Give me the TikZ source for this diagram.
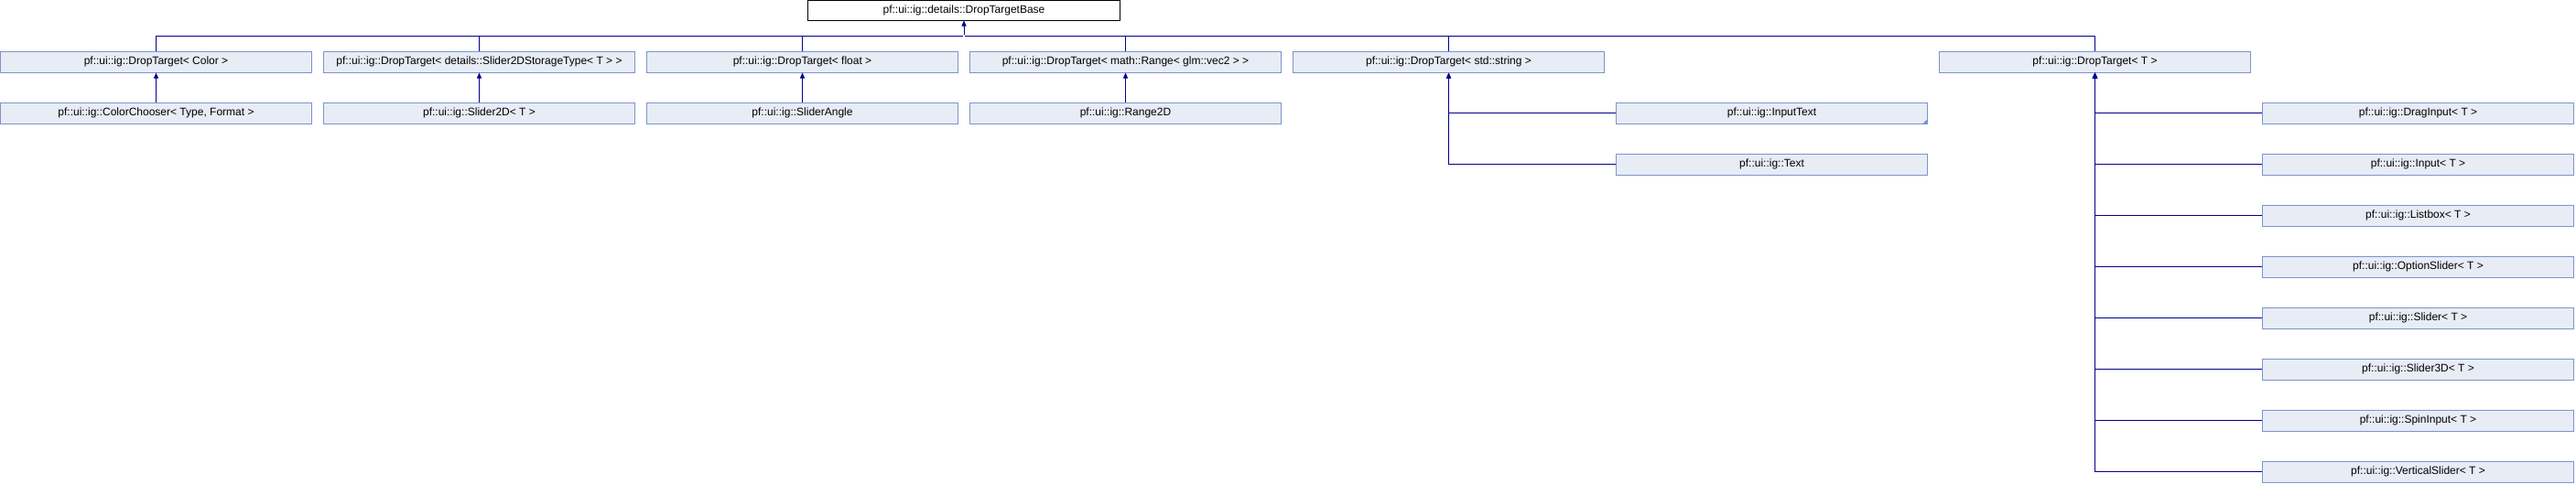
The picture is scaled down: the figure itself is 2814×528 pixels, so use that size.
\documentclass[tikz,border=0pt]{standalone}
\usepackage{fontspec}
\setmainfont{Liberation Sans}
\usetikzlibrary{arrows.meta}
\definecolor{classblue}{RGB}{0,0,140}
\definecolor{boxfill}{RGB}{232,236,245}
\definecolor{boxdraw}{RGB}{124,148,204}
\tikzstyle{cls} = [rectangle, minimum width=340pt, minimum height=23pt, inner sep=0pt, text centered, line width=1pt, draw=boxdraw, fill=boxfill]
\tikzstyle{rootclass} = [rectangle, minimum width=341pt, minimum height=22pt, inner sep=0pt, text centered, line width=1pt, draw=black, fill=white]
\tikzstyle{arrow} = [line width=1pt, classblue, -{Triangle[width=5pt,length=6pt]}]
\tikzstyle{line} = [line width=1pt, classblue, -]

\begin{document}
\begin{tikzpicture}[node distance=56pt, every node/.style={font=\fontsize{12}{14}\selectfont}]
\useasboundingbox (0,0) rectangle (2814pt,-528pt);

% Nodes
\node (color) [cls] at (170.5pt,-67.5pt) {pf::ui::ig::DropTarget< Color >};
\node (storage) [cls, right of=color, xshift=297pt] {pf::ui::ig::DropTarget< details::Slider2DStorageType< T > >};
\node (float) [cls, right of=storage, xshift=297pt] {pf::ui::ig::DropTarget< float >};
\node (range) [cls, right of=float, xshift=297pt] {pf::ui::ig::DropTarget< math::Range< glm::vec2 > >};
\node (string) [cls, right of=range, xshift=297pt] {pf::ui::ig::DropTarget< std::string >};
\node (target) [cls, right of=string, xshift=650pt] {pf::ui::ig::DropTarget< T >};

\node (rootbox) [rootclass, above of=float, xshift=176.5pt, yshift=0.5pt] {pf::ui::ig::details::DropTargetBase};

\node (chooser) [cls, below of=color] {pf::ui::ig::ColorChooser< Type, Format >};
\node (slider2d) [cls, below of=storage] {pf::ui::ig::Slider2D< T >};
\node (angle) [cls, below of=float] {pf::ui::ig::SliderAngle};
\node (range2d) [cls, below of=range] {pf::ui::ig::Range2D};

\node (inputtext) [cls, below of=string, xshift=353pt] {pf::ui::ig::InputText};
\node (text) [cls, below of=inputtext] {pf::ui::ig::Text};

\node (draginput) [cls, below of=target, xshift=353pt] {pf::ui::ig::DragInput< T >};
\node (input) [cls, below of=draginput] {pf::ui::ig::Input< T >};
\node (listbox) [cls, below of=input] {pf::ui::ig::Listbox< T >};
\node (option) [cls, below of=listbox] {pf::ui::ig::OptionSlider< T >};
\node (slider) [cls, below of=option] {pf::ui::ig::Slider< T >};
\node (slider3d) [cls, below of=slider] {pf::ui::ig::Slider3D< T >};
\node (spin) [cls, below of=slider3d] {pf::ui::ig::SpinInput< T >};
\node (vertical) [cls, below of=spin] {pf::ui::ig::VerticalSlider< T >};

% more derived classes mark
\fill [boxdraw] (inputtext.south east) -- ++(0pt,6pt) -- ++(-6pt,-6pt) -- cycle;

\node (bus) [inner sep=0pt, below of=rootbox, yshift=28pt]{};

% Arrows
\draw [arrow] (bus) -- (rootbox);
\draw [line] (color.north) |- (bus);
\draw [line] (storage.north) |- (bus);
\draw [line] (float.north) |- (bus);
\draw [line] (range.north) |- (bus);
\draw [line] (string.north) |- (bus);
\draw [line] (target.north) |- (bus);

\draw [arrow] (chooser) -- (color);
\draw [arrow] (slider2d) -- (storage);
\draw [arrow] (angle) -- (float);
\draw [arrow] (range2d) -- (range);

\draw [arrow] (inputtext.west) -| (string.south);
\draw [arrow] (text.west) -| (string.south);

\draw [arrow] (draginput.west) -| (target.south);
\draw [arrow] (input.west) -| (target.south);
\draw [arrow] (listbox.west) -| (target.south);
\draw [arrow] (option.west) -| (target.south);
\draw [arrow] (slider.west) -| (target.south);
\draw [arrow] (slider3d.west) -| (target.south);
\draw [arrow] (spin.west) -| (target.south);
\draw [arrow] (vertical.west) -| (target.south);

\end{tikzpicture}
\end{document}
